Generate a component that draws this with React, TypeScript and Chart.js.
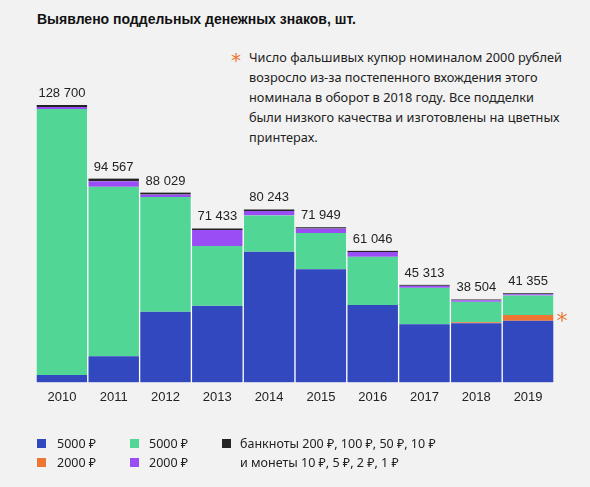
import React, { useEffect, useRef } from "react";
import { Chart, registerables } from "chart.js";

Chart.register(...registerables);

const years = ["2010", "2011", "2012", "2013", "2014", "2015", "2016", "2017", "2018", "2019"];
const totals = [128700, 94567, 88029, 71433, 80243, 71949, 61046, 45313, 38504, 41355];
const blue5000 = [3400, 12150, 32800, 35500, 60650, 52500, 35950, 27000, 27450, 28650];
const orange2000 = [null, null, null, null, null, null, null, null, 400, 2600];
const green5000 = [123400, 78567, 53229, 27733, 16793, 16849, 22346, 16913, 9504, 9005];
const purple2000 = [900, 2600, 1100, 7400, 2000, 2000, 2150, 900, 750, 650];
const blackOther = [1000, 1250, 900, 800, 800, 600, 600, 500, 400, 450];

const C_BLUE = "#3148bf";
const C_ORANGE = "#ee7633";
const C_GREEN = "#52d696";
const C_PURPLE = "#9b4df5";
const C_BLACK = "#242424";
const BG = "#f2f2f2";

const fmt = (v: number) => String(v).replace(/\B(?=(\d{3})+(?!\d))/g, " ");

const totalsPlugin = {
  id: "totalsPlugin",
  afterDatasetsDraw(chart: any) {
    const ctx = chart.ctx;
    const n = chart.data.labels.length;
    const topMeta = chart.getDatasetMeta(chart.data.datasets.length - 1);
    ctx.save();
    ctx.font = '13px "Liberation Sans", Arial, sans-serif';
    ctx.fillStyle = "#222";
    ctx.textAlign = "center";
    ctx.textBaseline = "alphabetic";
    for (let i = 0; i < n; i++) {
      const el = topMeta.data[i];
      ctx.fillText(fmt(totals[i]), el.x, el.y - 8);
    }
    const oMeta = chart.getDatasetMeta(1);
    const oe = oMeta.data[n - 1];
    if (oe) {
      const cx = oe.x + oe.width / 2 + 8;
      const cy = (oe.y + oe.base) / 2;
      ctx.font = '22px "DejaVu Sans", sans-serif';
      ctx.fillStyle = C_ORANGE;
      ctx.textBaseline = "middle";
      ctx.fillText("*", cx, cy + 4);
    }
    ctx.restore();
  },
};

export default function App() {
  const ref = useRef<HTMLCanvasElement | null>(null);
  useEffect(() => {
    if (!ref.current) return;
    const side = { left: 1, right: 1, top: 0, bottom: 0 };
    const mk = (label: string, data: any[], color: string) => ({
      label,
      data,
      backgroundColor: color,
      borderColor: "#ffffff",
      borderWidth: side,
      borderSkipped: false,
      barPercentage: 1,
      categoryPercentage: 1,
      stack: "s",
    });
    const chart = new Chart(ref.current, {
      type: "bar",
      data: {
        labels: years,
        datasets: [
          mk("5000 ₽", blue5000, C_BLUE),
          mk("2000 ₽", orange2000, C_ORANGE),
          mk("5000 ₽ ", green5000, C_GREEN),
          mk("2000 ₽ ", purple2000, C_PURPLE),
          mk("банкноты 200 ₽, 100 ₽, 50 ₽, 10 ₽ и монеты 10 ₽, 5 ₽, 2 ₽, 1 ₽", blackOther, C_BLACK),
        ] as any,
      },
      options: {
        responsive: false,
        animation: false,
        devicePixelRatio: 1,
        layout: { padding: { left: 36, right: 36, top: 59, bottom: 75 } },
        plugins: { legend: { display: false }, tooltip: { enabled: false } },
        scales: {
          x: {
            stacked: true,
            grid: { display: false, drawTicks: false, tickLength: 0 } as any,
            border: { display: false },
            ticks: {
              color: "#222",
              font: { family: '"Liberation Sans", Arial, sans-serif', size: 13 },
              padding: 7,
            },
          },
          y: {
            stacked: true,
            display: false,
            min: 0,
            max: 150000,
          },
        },
      },
      plugins: [totalsPlugin],
    });
    return () => chart.destroy();
  }, []);

  const legendText: React.CSSProperties = {
    position: "absolute",
    fontFamily: '"Noto Sans", sans-serif',
    fontSize: 12.5,
    color: "#222",
    lineHeight: "19px",
    whiteSpace: "nowrap",
  };
  const sq = (x: number, y: number, c: string) => (
    <div style={{ position: "absolute", left: x, top: y, width: 9, height: 9, background: c }} />
  );

  return (
    <div style={{ position: "fixed", left: 0, top: 0, width: 590, height: 487, background: BG, overflow: "hidden" }}>
      <div
        style={{
          position: "absolute",
          left: 37,
          top: 11,
          fontFamily: '"Liberation Sans", Arial, sans-serif',
          fontWeight: 700,
          fontSize: 14,
          color: "#111",
          whiteSpace: "nowrap",
        }}
      >
        Выявлено поддельных денежных знаков, шт.
      </div>
      <div style={{ position: "absolute", left: 231, top: 50, color: C_ORANGE, fontFamily: '"DejaVu Sans", sans-serif', fontSize: 20, lineHeight: "20px" }}>
        *
      </div>
      <div
        style={{
          position: "absolute",
          left: 249,
          top: 47,
          width: 340,
          fontFamily: '"Noto Sans", sans-serif',
          fontSize: 12.75,
          lineHeight: "20px",
          color: "#222",
          whiteSpace: "nowrap",
        }}
      >
        Число фальшивых купюр номиналом 2000 рублей
        <br />
        возросло из-за постепенного вхождения этого
        <br />
        номинала в оборот в 2018 году. Все подделки
        <br />
        были низкого качества и изготовлены на цветных
        <br />
        принтерах.
      </div>
      <canvas ref={ref} width={590} height={487} style={{ position: "absolute", left: 0, top: 0, width: 590, height: 487 }} />
      {sq(37, 439, C_BLUE)}
      {sq(37, 458, C_ORANGE)}
      {sq(130, 439, C_GREEN)}
      {sq(130, 458, C_PURPLE)}
      {sq(222, 439, C_BLACK)}
      <div style={{ ...legendText, left: 57, top: 434 }}>
        5000 ₽<br />2000 ₽
      </div>
      <div style={{ ...legendText, left: 149, top: 434 }}>
        5000 ₽<br />2000 ₽
      </div>
      <div style={{ ...legendText, left: 240, top: 434 }}>
        банкноты 200 ₽, 100 ₽, 50 ₽, 10 ₽<br />и монеты 10 ₽, 5 ₽, 2 ₽, 1 ₽
      </div>
    </div>
  );
}
